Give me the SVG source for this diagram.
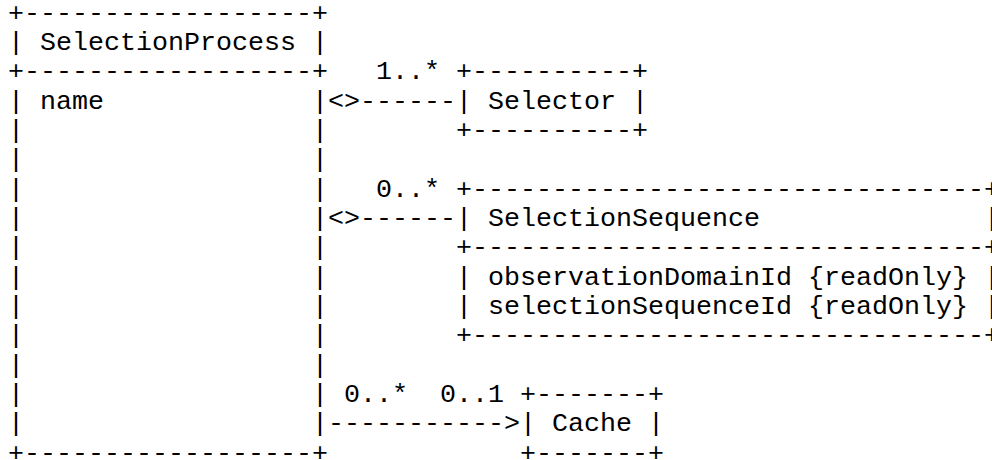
<svg xmlns="http://www.w3.org/2000/svg" width="992" height="460" viewBox="0 0 992 460" xml:space="preserve">
<style>
text { font-family: "Liberation Mono", "Courier New", "DejaVu Sans Mono", monospace; font-size: 26.667px; fill: #000; white-space: pre; }
</style>
<rect x="0" y="0" width="992" height="460" fill="#fff"/>
<g id="SelectionProcess">
<text x="8" y="20.7">+------------------+</text>
<text x="8" y="50">| SelectionProcess |</text>
<text x="8" y="79.4">+------------------+</text>
<text x="8" y="108.7">| name             |</text>
<text x="8" y="138">|                  |</text>
<text x="8" y="167.4">|                  |</text>
<text x="8" y="196.7">|                  |</text>
<text x="8" y="226">|                  |</text>
<text x="8" y="255.3">|                  |</text>
<text x="8" y="284.7">|                  |</text>
<text x="8" y="314">|                  |</text>
<text x="8" y="343.3">|                  |</text>
<text x="8" y="372.7">|                  |</text>
<text x="8" y="402">|                  |</text>
<text x="8" y="431.3">|                  |</text>
<text x="8" y="460.6">+------------------+</text>
</g>
<g id="Selector">
<text x="456" y="79.4">+----------+</text>
<text x="456" y="108.7">| Selector |</text>
<text x="456" y="138">+----------+</text>
</g>
<g id="SelectionSequence">
<text x="456" y="196.7">+--------------------------------+</text>
<text x="456" y="226">| SelectionSequence              |</text>
<text x="456" y="255.3">+--------------------------------+</text>
<text x="456" y="284.7">| observationDomainId {readOnly} |</text>
<text x="456" y="314">| selectionSequenceId {readOnly} |</text>
<text x="456" y="343.3">+--------------------------------+</text>
</g>
<g id="Cache">
<text x="520" y="402">+-------+</text>
<text x="520" y="431.3">| Cache |</text>
<text x="520" y="460.6">+-------+</text>
</g>
<g id="connectors">
<text x="376" y="79.4">1..*</text>
<text x="328" y="108.7">&lt;&gt;------</text>
<text x="376" y="196.7">0..*</text>
<text x="328" y="226">&lt;&gt;------</text>
<text x="344" y="402">0..*  0..1</text>
<text x="328" y="431.3">-----------&gt;</text>
</g>
</svg>
